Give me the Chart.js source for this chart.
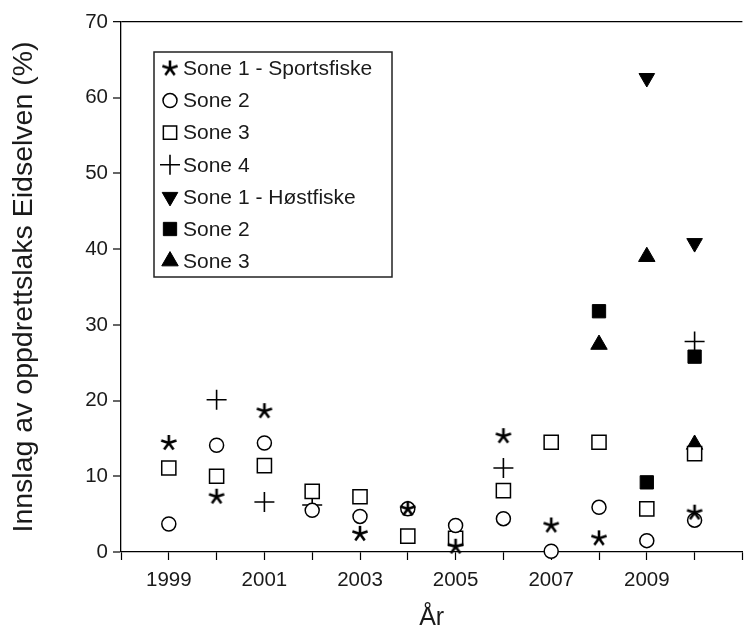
<!DOCTYPE html>
<html>
<head>
<meta charset="utf-8">
<script src="https://cdn.jsdelivr.net/npm/chart.js@4/dist/chart.umd.min.js"></script>
<style>
  html, body { margin: 0; padding: 0; background: #fff; overflow: hidden; }
  #wrap { width: 754px; height: 633px; position: relative; }
</style>
</head>
<body>
<div id="wrap"><canvas id="c"></canvas></div>
<script>
// ---- Data ----
const years = [1999, 2000, 2001, 2002, 2003, 2004, 2005, 2006, 2007, 2008, 2009, 2010];
const sportsSone1 = [14.4, 7.3, 18.6, null, 2.4, 5.7, 0.7, 15.3, 3.5, 1.8, null, 5.2];
const sportsSone2 = [3.7, 14.1, 14.4, 5.5, 4.7, 5.7, 3.5, 4.4, 0.1, 5.9, 1.5, 4.2];
const sportsSone3 = [11.1, 10.0, 11.4, 8.0, 7.3, 2.1, 1.8, 8.1, 14.5, 14.5, 5.7, 13.0];
const sportsSone4 = [null, 20.1, 6.6, 6.2, null, null, null, 11.1, null, null, null, 27.8];
const hostSone1 = [null, null, null, null, null, null, null, null, null, null, 62.6, 40.8];
const hostSone2 = [null, null, null, null, null, null, null, null, null, 31.8, 9.2, 25.8];
const hostSone3 = [null, null, null, null, null, null, null, null, null, 27.4, 39.0, 14.2];
const seriesLabels = ['Sone 1 - Sportsfiske', 'Sone 2', 'Sone 3', 'Sone 4', 'Sone 1 - Høstfiske', 'Sone 2', 'Sone 3'];
const xTickLabels = [1999, 2001, 2003, 2005, 2007, 2009];
const yTicks = [0, 10, 20, 30, 40, 50, 60, 70];

function pts(arr) {
  const out = [];
  arr.forEach((v, i) => { if (v !== null) out.push({ x: years[i], y: v }); });
  return out;
}

// asterisk marker (5 arms)
const star = document.createElement('canvas');
star.width = 20; star.height = 20;
(function () {
  const g = star.getContext('2d');
  g.strokeStyle = '#000';
  g.lineWidth = 2.6;
  g.lineCap = 'butt';
  for (let k = 0; k < 5; k++) {
    const a = -Math.PI / 2 + k * 2 * Math.PI / 5;
    g.beginPath();
    g.moveTo(10, 10);
    g.lineTo(10 + Math.cos(a) * 8, 10 + Math.sin(a) * 8);
    g.stroke();
  }
})();

const black = '#000';
const datasets = [
  { label: seriesLabels[0], data: pts(sportsSone1), pointStyle: star, pointRadius: 8, backgroundColor: black, borderColor: black },
  { label: seriesLabels[1], data: pts(sportsSone2), pointStyle: 'circle', pointRadius: 7, backgroundColor: '#fff', borderColor: black, borderWidth: 1.5 },
  { label: seriesLabels[2], data: pts(sportsSone3), pointStyle: 'rect', pointRadius: 10, backgroundColor: '#fff', borderColor: black, borderWidth: 1.5 },
  { label: seriesLabels[3], data: pts(sportsSone4), pointStyle: 'cross', pointRadius: 10, backgroundColor: black, borderColor: black, borderWidth: 1.6 },
  { label: seriesLabels[4], data: pts(hostSone1), pointStyle: 'triangle', pointRotation: 180, pointRadius: 9, backgroundColor: black, borderColor: black, borderWidth: 1 },
  { label: seriesLabels[5], data: pts(hostSone2), pointStyle: 'rect', pointRadius: 9.4, backgroundColor: black, borderColor: black, borderWidth: 1 },
  { label: seriesLabels[6], data: pts(hostSone3), pointStyle: 'triangle', pointRadius: 9.5, backgroundColor: black, borderColor: black, borderWidth: 1 }
];
datasets.forEach(d => { d.showLine = false; d.clip = false; d.pointHoverRadius = d.pointRadius; });

// legend drawn inside the plot with a frame
const boxLegend = {
  id: 'boxLegend',
  afterDatasetsDraw(chart) {
    const ctx = chart.ctx;
    const ca = chart.chartArea;
    const x0 = ca.left + 33, y0 = ca.top + 30, w = 238, h = 225;
    ctx.save();
    ctx.fillStyle = '#fff';
    ctx.fillRect(x0, y0, w, h);
    ctx.strokeStyle = '#222';
    ctx.lineWidth = 1.5;
    ctx.strokeRect(x0, y0, w, h);
    ctx.font = '21px "Liberation Sans", Arial, sans-serif';
    ctx.fillStyle = '#1a1a1a';
    ctx.textBaseline = 'middle';
    ctx.textAlign = 'left';
    chart.data.datasets.forEach((ds, i) => {
      const y = y0 + 16.5 + i * 32.1;
      const opts = {
        pointStyle: ds.pointStyle,
        radius: ds.pointStyle === 'rect' ? 9.4 : ds.pointRadius,
        rotation: ds.pointRotation || 0,
        borderWidth: ds.borderWidth || 1
      };
      ctx.save();
      ctx.fillStyle = ds.backgroundColor;
      ctx.strokeStyle = ds.borderColor;
      ctx.lineWidth = opts.borderWidth;
      Chart.helpers.drawPoint(ctx, opts, x0 + 16, y);
      ctx.restore();
      ctx.fillText(ds.label, x0 + 29, y + 1);
    });
    ctx.restore();
  }
};

new Chart(document.getElementById('c'), {
  type: 'scatter',
  data: { datasets },
  options: {
    responsive: true,
    maintainAspectRatio: false,
    animation: false,
    events: [],
    layout: { padding: { top: 22, left: 0, right: 0, bottom: 0 } },
    elements: { point: { borderWidth: 1.5 } },
    plugins: { legend: { display: false }, tooltip: { enabled: false } },
    scales: {
      x: {
        type: 'linear',
        min: 1998,
        max: 2011,
        afterFit(s) { s.height = 81; },
        border: { color: '#000', width: 1.3 },
        grid: { drawOnChartArea: false, tickLength: 8, tickColor: '#000', tickWidth: 1.2 },
        ticks: {
          stepSize: 1,
          autoSkip: false,
          maxRotation: 0,
          padding: 8,
          color: '#1a1a1a',
          font: { family: '"Liberation Sans", Arial, sans-serif', size: 20.5 },
          callback: v => xTickLabels.includes(v) ? String(v) : ''
        },
        title: {
          display: true,
          text: 'År',
          color: '#1a1a1a',
          font: { family: '"Liberation Sans", Arial, sans-serif', size: 25 },
          padding: { top: 0, bottom: 0 }
        }
      },
      y: {
        min: 0,
        max: 70,
        afterFit(s) { s.width = 121; },
        afterBuildTicks(s) { s.ticks = yTicks.map(v => ({ value: v })); },
        border: { color: '#000', width: 1.3 },
        grid: {
          drawOnChartArea: true,
          color: c => (c.tick && c.tick.value === 70) ? '#000' : 'rgba(0,0,0,0)',
          lineWidth: c => (c.tick && c.tick.value === 70) ? 1.3 : 0,
          tickLength: 8,
          tickColor: '#000',
          tickWidth: 1.2
        },
        ticks: {
          padding: 5,
          color: '#1a1a1a',
          font: { family: '"Liberation Sans", Arial, sans-serif', size: 20.5 }
        },
        title: {
          display: true,
          text: 'Innslag av oppdrettslaks Eidselven (%)',
          color: '#1a1a1a',
          font: { family: '"Liberation Sans", Arial, sans-serif', size: 28.5 },
          padding: { top: 7, bottom: 0 }
        }
      }
    }
  },
  plugins: [boxLegend]
});
</script>
</body>
</html>
